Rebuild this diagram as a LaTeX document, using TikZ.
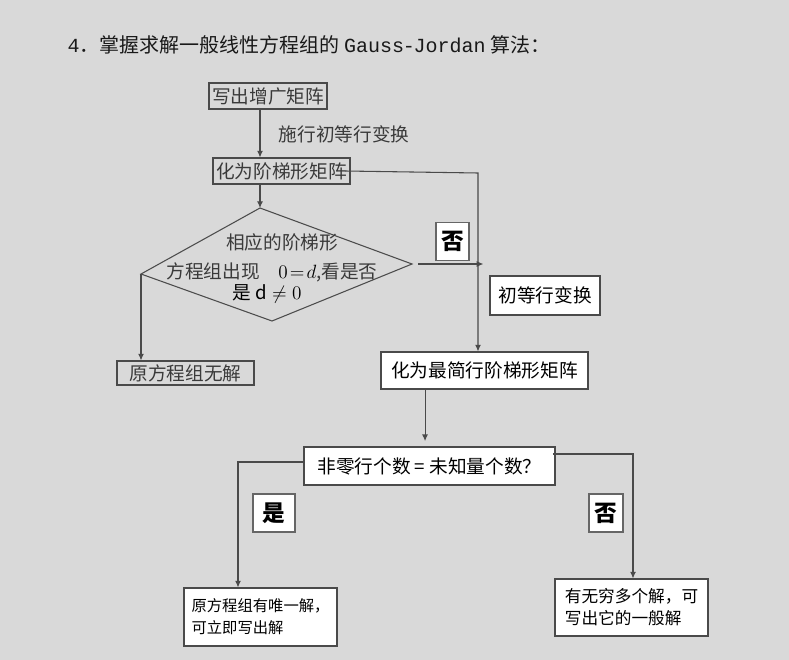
\documentclass[tikz,border=0pt]{standalone}
\usepackage{fontspec}
\setmainfont{Noto Sans CJK SC}
\newfontfamily\headmono{Liberation Mono}
\usepackage{xcolor}
\definecolor{pagegray}{HTML}{D9D9D9}
\definecolor{inkgray}{HTML}{3A3A3A}
\definecolor{framegray}{HTML}{4A4A4A}
\usepackage{tikz}
\usetikzlibrary{arrows.meta, positioning}
\newcommand{\headfont}{\fontsize{15pt}{15pt}\selectfont}
\newcommand{\flowfont}{\fontsize{14pt}{16pt}\selectfont}
\newcommand{\tagfont}{\fontsize{17pt}{17pt}\selectfont\bfseries}
\tikzset{
    link/.style={draw=framegray, line width=0.8pt},
    flow/.style={link, -{Latex[length=5pt, width=4.5pt]}},
    upbox/.style={draw=framegray, line width=0.8pt, inner sep=0pt, text=inkgray, font=\flowfont},
    lowbox/.style={draw=framegray, line width=0.8pt, fill=white, inner sep=0pt, text=black, font=\flowfont},
    tagbox/.style={draw=gray!80!black, line width=0.8pt, fill=white, inner sep=0pt, minimum height=28.5pt, font=\tagfont}
}

\begin{document}
\begin{tikzpicture}[x=0.75pt, y=-0.75pt]
    \fill[pagegray] (0,0) rectangle (789,660);
    \useasboundingbox (0,0) rectangle (789,660);

    \node[anchor=west, font=\headfont, text=black!90] (title) at (63,45)
        {{\headmono 4}．掌握求解一般线性方程组的 {\headmono Gauss\kern-1pt-\kern-1pt Jordan} 算法：};

    % upper part
    \node[upbox, minimum width=88.5pt, minimum height=19.5pt] (augment) at (268,96) {写出增广矩阵};
    \node[font=\flowfont, text=inkgray] (opnote) at (344,134) {施行初等行变换};
    \node[upbox, minimum width=102.75pt, minimum height=19.5pt] (echelon) at (281.5,171) {化为阶梯形矩阵};

    \coordinate (dtop) at (260,208);
    \coordinate (dright) at (412,264);
    \coordinate (dbot) at (272,321);
    \coordinate (dleft) at (141,274);
    \draw[link, draw=gray!60!black] (dtop) -- (dright) -- (dbot) -- (dleft) -- cycle;
    \node[font=\flowfont, text=inkgray] (dline1) at (282,242) {相应的阶梯形};
    \node[font=\flowfont, text=inkgray] (dline2) at (272,272) {方程组出现\quad\textcolor{black}{$0\!=\!d$},看是否};
    \node[font=\flowfont, text=black] (dline3) at (267,294) {是 $\mathrm{d}\neq0$};

    \node[upbox, minimum width=102.75pt, minimum height=18pt] (nosol) at (185.5,373) {原方程组无解};

    % lower part
    \node[lowbox, minimum width=82.5pt, minimum height=29.25pt] (rowop) at (545,295.5) {初等行变换};
    \node[lowbox, minimum width=155.25pt, minimum height=27.75pt] (rref) at (484.5,370.5) {化为最简行阶梯形矩阵};
    \node[lowbox, minimum width=188.25pt, minimum height=28.5pt] (rankq) at (429.5,466) {非零行个数 = 未知量个数？};
    \node[lowbox, align=left, minimum width=114.75pt, minimum height=43.5pt, font=\fontsize{11.5pt}{16.5pt}\selectfont] (unique) at (260.5,617)
        {原方程组有唯一解，\\可立即写出解};
    \node[lowbox, align=left, minimum width=114.75pt, minimum height=42.75pt, font=\fontsize{12.5pt}{16.5pt}\selectfont] (infinite) at (631.5,607.5)
        {有无穷多个解，可\\写出它的一般解};

    \foreach \name/\x/\y/\w/\txt in {nofirst/452.5/241.5/24.75/否, yes/274/513/31.5/是, nosecond/606/513/25.5/否} {
        \node[tagbox, minimum width=\w pt] (\name) at (\x,\y) {\txt};
    }

    % connectors
    \coordinate (bend) at (478,173);
    \coordinate (lcorner) at (238,462);
    \coordinate (rcorner) at (633,454);
    \draw[flow] (augment.south -| dtop) -- (echelon.north -| dtop);
    \draw[flow] (echelon.south -| dtop) -- (dtop);
    \draw[flow] ([xshift=-4pt]echelon.east) -- (bend) -- (bend |- rref.north);
    \draw[flow] ([xshift=4.5pt]dright) -- ([xshift=4pt]dright -| bend);
    \draw[flow] (dleft) -- (dleft |- nosol.north);
    \draw[flow] ([xshift=-44.6pt]rref.south) -- ([xshift=-44.6pt,yshift=4pt]rref.south |- rankq.north);
    \draw[flow] ([yshift=3pt]rankq.west) -- (lcorner) -- (lcorner |- unique.north);
    \draw[flow] ([xshift=-2pt,yshift=9pt]rankq.east) -- (rcorner) -- (rcorner |- infinite.north);
\end{tikzpicture}
\end{document}
